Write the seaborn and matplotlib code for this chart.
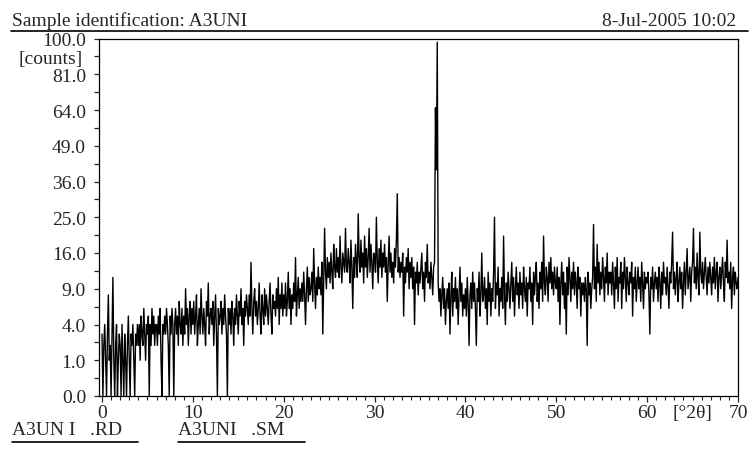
import numpy as np
import pandas as pd
import matplotlib.pyplot as plt
from matplotlib.lines import Line2D
from matplotlib.ticker import FixedLocator, NullFormatter
import seaborn as sns

# Scan settings and header text
scan_start = 0.0
scan_step = 0.1
sample_name = "Sample identification: A3UNI"
scan_date = "8-Jul-2005 10:02"
file_raw = "A3UN I   .RD"
file_smooth = "A3UNI   .SM"

# Counts, one row per degree 2theta (0.1 deg step)
counts = [
    3, 0, 2, 4, 1, 0, 3, 8, 1, 2,
    0, 3, 11, 1, 0, 2, 4, 0, 1, 3,
    2, 0, 4, 1, 0, 3, 1, 0, 2, 5,
    1, 0, 3, 2, 4, 1, 0, 3, 2, 4,
    2, 4, 1, 5, 3, 2, 6, 3, 1, 4,
    3, 5, 0, 4, 2, 6, 3, 5, 2, 4,
    4, 2, 5, 3, 6, 1, 0, 4, 3, 5,
    3, 6, 4, 2, 0, 5, 3, 6, 4, 0,
    4, 6, 3, 5, 2, 7, 4, 3, 6, 2,
    5, 3, 9, 4, 6, 2, 5, 7, 3, 6,
    4, 7, 3, 5, 8, 2, 4, 6, 3, 9,
    5, 3, 6, 4, 2, 7, 5, 10, 3, 5,
    6, 4, 7, 2, 5, 8, 3, 0, 6, 4,
    5, 7, 3, 6, 4, 8, 5, 3, 0, 6,
    4, 6, 3, 7, 5, 2, 6, 4, 8, 5,
    3, 7, 5, 9, 4, 6, 2, 7, 5, 8,
    6, 4, 8, 5, 14, 6, 3, 7, 9, 5,
    7, 4, 6, 10, 5, 3, 8, 6, 4, 9,
    5, 8, 6, 4, 7, 10, 5, 3, 8, 6,
    7, 5, 9, 6, 11, 4, 8, 6, 10, 5,
    8, 6, 10, 5, 7, 12, 6, 9, 4, 8,
    6, 10, 7, 15, 5, 8, 11, 6, 9, 7,
    10, 7, 12, 8, 4, 9, 13, 7, 11, 8,
    9, 12, 7, 17, 10, 6, 11, 8, 13, 9,
    11, 8, 14, 3, 10, 22, 12, 9, 15, 11,
    14, 10, 16, 12, 9, 18, 13, 11, 17, 12,
    15, 11, 20, 13, 10, 16, 14, 12, 22, 13,
    12, 17, 14, 10, 19, 13, 6, 15, 11, 18,
    14, 11, 26, 15, 12, 19, 13, 16, 10, 20,
    13, 17, 11, 15, 22, 12, 18, 14, 9, 16,
    15, 12, 25, 14, 10, 17, 13, 19, 11, 16,
    13, 18, 12, 15, 7, 14, 20, 12, 16, 11,
    14, 10, 17, 13, 19, 32, 12, 15, 11, 14,
    12, 16, 5, 13, 10, 15, 12, 17, 9, 14,
    11, 15, 9, 13, 4, 12, 10, 14, 8, 12,
    10, 13, 16, 9, 12, 7, 14, 11, 18, 10,
    12, 9, 14, 11, 8, 13, 14, 65, 40, 98,
    10, 7, 9, 5, 8, 11, 6, 9, 4, 7,
    9, 6, 10, 3, 8, 12, 5, 9, 7, 11,
    6, 9, 4, 8, 13, 7, 10, 5, 8, 6,
    9, 5, 11, 7, 2, 8, 10, 6, 12, 7,
    10, 6, 2, 9, 7, 12, 5, 8, 16, 7,
    8, 11, 6, 9, 4, 12, 7, 10, 5, 9,
    7, 12, 25, 6, 10, 8, 13, 5, 9, 7,
    11, 6, 20, 8, 4, 10, 7, 12, 9, 6,
    10, 14, 7, 11, 5, 9, 13, 8, 10, 6,
    12, 8, 10, 6, 13, 9, 7, 11, 5, 10,
    9, 13, 7, 10, 4, 12, 8, 11, 14, 7,
    10, 6, 12, 9, 14, 7, 20, 10, 8, 13,
    11, 7, 14, 10, 15, 9, 12, 8, 13, 10,
    9, 13, 7, 11, 4, 10, 14, 8, 12, 6,
    10, 3, 13, 8, 15, 11, 7, 12, 9, 14,
    8, 12, 10, 6, 13, 9, 11, 5, 10, 8,
    10, 7, 11, 9, 2, 12, 8, 10, 6, 9,
    11, 23, 9, 13, 7, 18, 10, 14, 8, 12,
    9, 15, 11, 7, 13, 10, 16, 8, 12, 10,
    12, 8, 14, 10, 6, 13, 9, 15, 7, 11,
    10, 14, 6, 12, 9, 15, 11, 7, 13, 10,
    8, 12, 10, 14, 5, 11, 9, 13, 7, 10,
    13, 9, 11, 7, 14, 10, 6, 12, 9, 11,
    10, 12, 8, 3, 11, 9, 13, 7, 10, 12,
    9, 11, 7, 13, 10, 6, 12, 8, 14, 10,
    11, 8, 13, 9, 6, 12, 10, 14, 21, 9,
    12, 8, 11, 14, 7, 10, 13, 9, 12, 6,
    10, 14, 8, 12, 17, 9, 11, 13, 7, 12,
    14, 22, 10, 13, 9, 16, 11, 8, 21, 12,
    10, 14, 9, 12, 15, 11, 8, 13, 10, 14,
    11, 8, 13, 10, 15, 9, 12, 14, 7, 11,
    13, 9, 12, 15, 10, 7, 14, 11, 19, 10,
    12, 9, 14, 6, 11, 13, 8, 12, 10, 9,
    11,
]

# Axis ticks
y_major = [0, 1, 4, 9, 16, 25, 36, 49, 64, 81, 100]
y_minor = [0.25, 2.25, 6.25, 12.25, 20.25, 30.25, 42.25, 56.25, 72.25, 90.25]
x_major = [0, 10, 20, 30, 40, 50, 60, 70]

df = pd.DataFrame({
    "two_theta": scan_start + scan_step * np.arange(len(counts)),
    "counts": counts,
})

sns.set_style("ticks")
plt.rcParams["font.family"] = ["Liberation Serif", "DejaVu Serif"]
plt.rcParams["font.size"] = 14

fig = plt.figure(figsize=(7.54, 4.52), dpi=100)
W, H = 754, 452
ax = fig.add_axes([99 / W, 1 - 397 / H, (738 - 99) / W, (397 - 39.5) / H])

sns.lineplot(data=df, x="two_theta", y="counts", ax=ax, color="black",
             linewidth=1.0, estimator=None)

# square root intensity axis
ax.set_yscale("function", functions=(lambda v: np.sqrt(np.clip(v, 0, None)), np.square))
ax.set_ylim(0, 100)
ax.set_xlim(-0.33, 70)

ax.yaxis.set_major_locator(FixedLocator(y_major))
ax.yaxis.set_minor_locator(FixedLocator(y_minor))
ax.set_yticklabels([f"{v:.1f}" for v in y_major])
ax.yaxis.set_minor_formatter(NullFormatter())

ax.xaxis.set_major_locator(FixedLocator(x_major))
ax.xaxis.set_minor_locator(FixedLocator(list(range(71))))
ax.set_xticklabels([str(v) for v in x_major])

ax.tick_params(axis="y", which="both", direction="out", length=3.8, width=0.9, pad=5.5)
ax.tick_params(axis="x", which="major", direction="out", length=4.0, width=0.9, pad=2)
ax.tick_params(axis="x", which="minor", direction="out", length=3.0, width=0.8)
for s in ax.spines.values():
    s.set_linewidth(0.9)
    s.set_color("black")

ax.set_xlabel("")
ax.set_ylabel("")

ax.annotate("[counts]", xy=(0, 90.25), xycoords=("axes fraction", "data"),
            xytext=(-11.5, -1.5), textcoords="offset points", ha="right", va="center")
ax.annotate("[°2θ]", xy=(65, 0), xycoords=("data", "axes fraction"),
            xytext=(0, -5.5), textcoords="offset points", ha="center", va="top")

# header and footer
fig.text(12 / W, 1 - 26 / H, sample_name, ha="left", va="baseline")
fig.text(736 / W, 1 - 26 / H, scan_date, ha="right", va="baseline")
fig.add_artist(Line2D([11 / W, 748 / W], [1 - 31.5 / H, 1 - 31.5 / H],
                      transform=fig.transFigure, color="black", lw=1.2))

fig.text(12 / W, 1 - 435 / H, file_raw, ha="left", va="baseline")
fig.text(178 / W, 1 - 435 / H, file_smooth, ha="left", va="baseline")
fig.add_artist(Line2D([12 / W, 138 / W], [1 - 443 / H, 1 - 443 / H],
                      transform=fig.transFigure, color="black", lw=1.2))
fig.add_artist(Line2D([178 / W, 305 / W], [1 - 443 / H, 1 - 443 / H],
                      transform=fig.transFigure, color="black", lw=1.2))

fig.savefig("out.png", dpi=100)
